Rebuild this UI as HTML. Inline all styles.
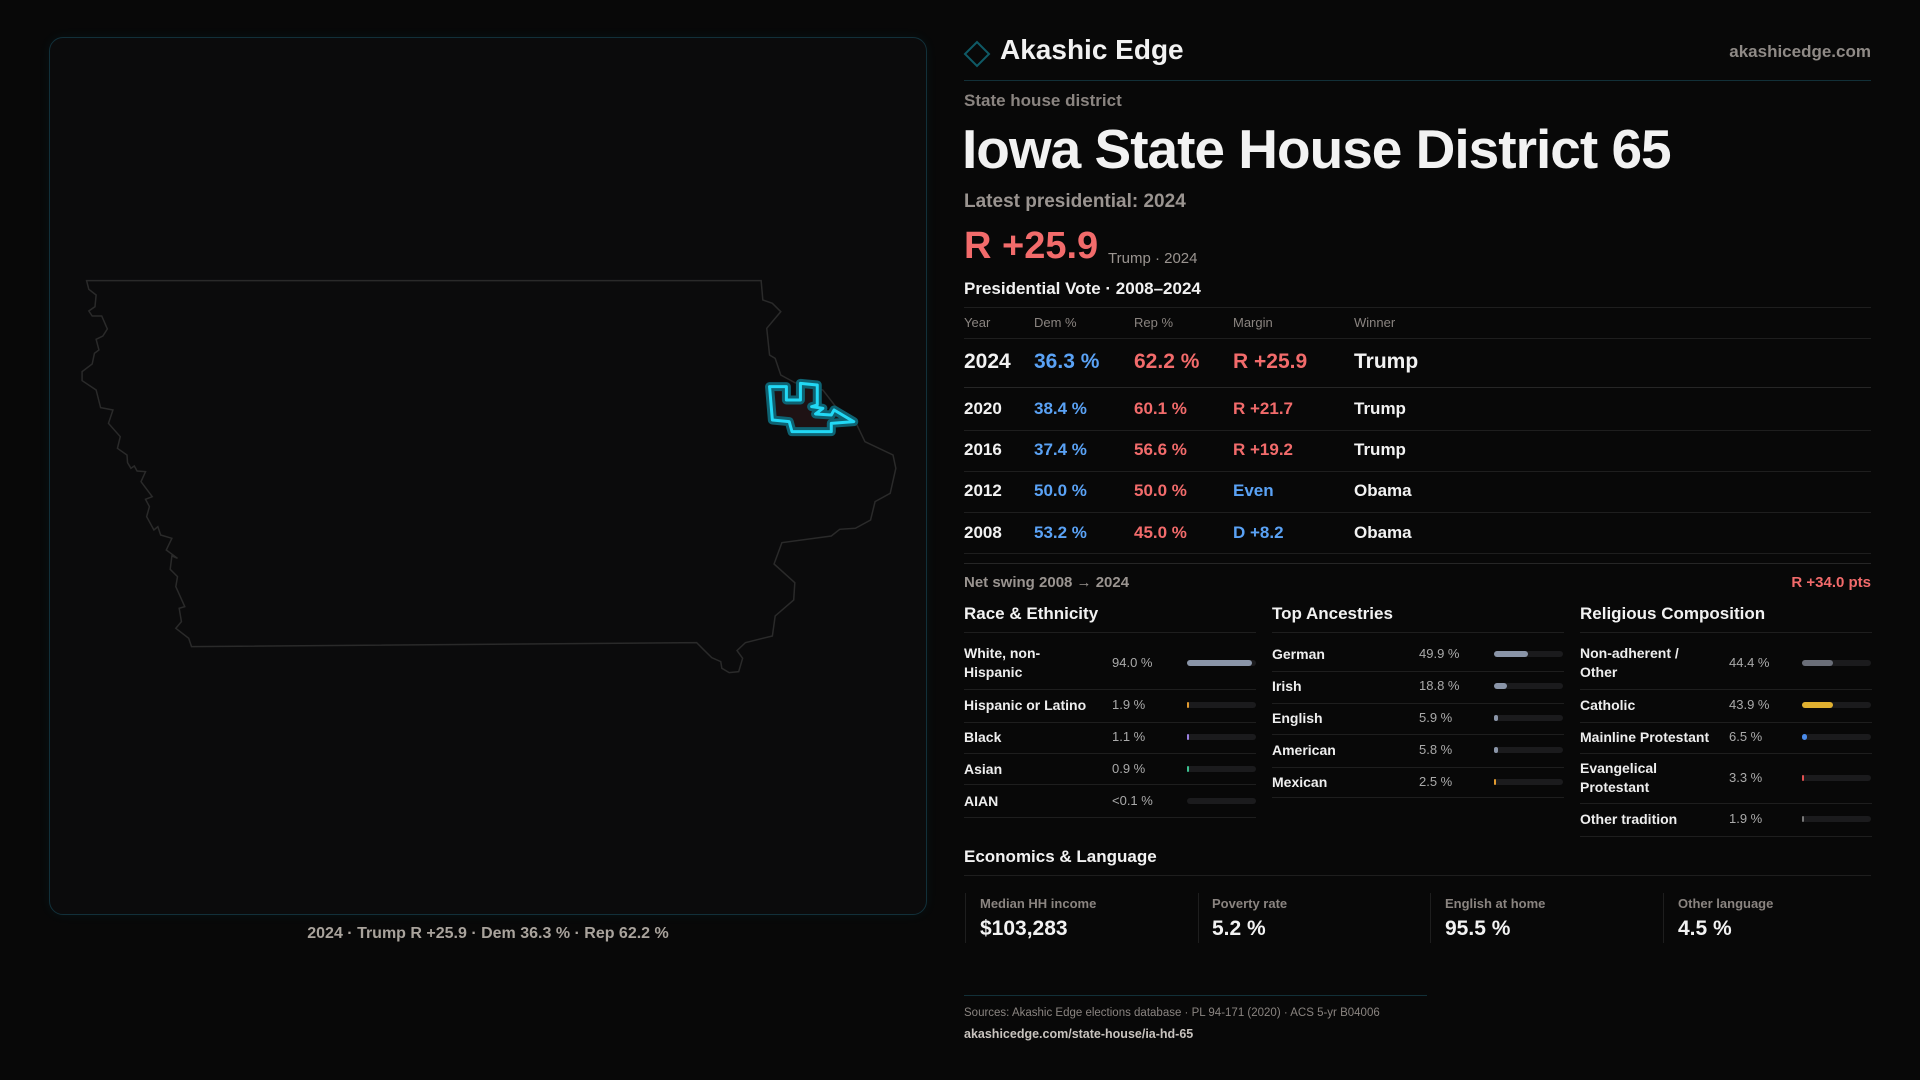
<!DOCTYPE html>
<html><head><meta charset="utf-8"><style>
*{margin:0;padding:0;box-sizing:border-box}
body{width:1920px;height:1080px;background:#080808;color:#f2f2f2;font-family:"Liberation Sans",sans-serif;position:relative;overflow:hidden}
.a{position:absolute;white-space:nowrap}
.g{color:#9a9490}
.r{color:#f26b6b}.b{color:#5aa2f5}
.hl{position:absolute;height:1px;background:#1e1e1e}
.bar{position:absolute;height:6px;border-radius:3px;background:#1b1b1d;width:69px}
.bar i{position:absolute;left:0;top:0;height:6px;border-radius:3px}
.lab{font-size:14px;font-weight:bold;color:#eee;line-height:19px}
.val{font-size:13px;color:#aaa}
</style></head><body>
<div class="a" style="left:49px;top:37px;width:878px;height:878px;border:1px solid #12303a;border-radius:14px;background:#0b0b0c;box-shadow:0 0 12px rgba(0,200,230,0.06)"></div>
<svg class="a" style="left:0;top:0" width="1920" height="1080">
<g transform="translate(40,260) scale(0.5612,0.3333)">
<polygon vector-effect="non-scaling-stroke" fill="none" stroke="#2a2a2a" stroke-width="1.5" points="83,62 1285,62 1288,120 1305,130 1320,155 1295,205 1300,285 1310,295 1320,345 1345,368 1395,390 1418,440 1450,475 1470,545 1520,585 1525,625 1515,700 1488,725 1480,780 1453,805 1425,808 1410,828 1322,848 1308,912 1345,968 1343,1020 1310,1068 1305,1128 1257,1148 1242,1172 1252,1195 1245,1235 1228,1238 1215,1225 1213,1205 1197,1193 1183,1170 1170,1148 270,1160 265,1135 242,1105 252,1085 248,1045 258,1040 242,980 245,950 232,928 235,888 245,895 225,870 235,835 215,825 210,800 203,810 190,770 195,740 188,718 200,710 180,665 188,635 173,633 168,618 162,625 156,608 155,585 138,565 143,530 122,490 130,450 108,443 100,390 75,362 75,335 93,312 97,280 105,270 100,238 112,228 120,207 110,168 93,168 87,153 98,140 100,105 87,88"/>
<polygon vector-effect="non-scaling-stroke" fill="#1e1214" stroke="#0e6272" stroke-width="9" stroke-linejoin="round" points="1300,380 1330,380 1330,420 1355,420 1355,370 1385,375 1385,435 1375,440 1395,445 1382,462 1410,465 1415,450 1450,485 1410,490 1410,515 1340,515 1335,485 1305,480"/>
<polygon vector-effect="non-scaling-stroke" fill="none" stroke="#22d8f5" stroke-width="3" stroke-linejoin="round" points="1300,380 1330,380 1330,420 1355,420 1355,370 1385,375 1385,435 1375,440 1395,445 1382,462 1410,465 1415,450 1450,485 1410,490 1410,515 1340,515 1335,485 1305,480"/>
</g>
<polygon points="965,54 977,42 989,54 977,66" fill="none" stroke="#0f5a66" stroke-width="2"/>
</svg>
<div class="a g" style="left:0;width:976px;text-align:center;top:925px;font-size:16px;font-weight:bold;color:#a9a39c">2024 · Trump R +25.9 · Dem 36.3 % · Rep 62.2 %</div>

<div class="a" style="left:1000px;top:34px;font-size:28px;font-weight:bold">Akashic Edge</div>
<div class="a g" style="right:49px;top:42px;font-size:17px;font-weight:bold;color:#8f8a86">akashicedge.com</div>
<div class="hl" style="left:964px;width:907px;top:80px;background:#123038"></div>
<div class="a g" style="left:964px;top:91px;font-size:17px;font-weight:bold;color:#8a8480">State house district</div>
<div class="a" style="left:962px;top:117px;font-size:55px;font-weight:bold;letter-spacing:-1px">Iowa State House District 65</div>
<div class="a g" style="left:964px;top:191px;font-size:19px;font-weight:bold">Latest presidential: 2024</div>
<div class="a r" style="left:964px;top:225px;font-size:38px;font-weight:bold">R +25.9</div>
<div class="a g" style="left:1108px;top:250px;font-size:15px">Trump · 2024</div>
<div class="a" style="left:964px;top:279px;font-size:17px;font-weight:bold">Presidential Vote · 2008–2024</div>
<div class="hl" style="left:964px;width:907px;top:307px"></div>
<div class="a g" style="left:964px;top:315px;font-size:13px;color:#8a8480">Year</div>
<div class="a g" style="left:1034px;top:315px;font-size:13px;color:#8a8480">Dem %</div>
<div class="a g" style="left:1134px;top:315px;font-size:13px;color:#8a8480">Rep %</div>
<div class="a g" style="left:1233px;top:315px;font-size:13px;color:#8a8480">Margin</div>
<div class="a g" style="left:1354px;top:315px;font-size:13px;color:#8a8480">Winner</div>
<div class="hl" style="left:964px;width:907px;top:338px"></div>
<div class="a" style="left:964px;top:350px;font-size:21px;font-weight:bold">2024</div>
<div class="a b" style="left:1034px;top:350px;font-size:21px;font-weight:bold">36.3 %</div>
<div class="a r" style="left:1134px;top:350px;font-size:21px;font-weight:bold">62.2 %</div>
<div class="a r" style="left:1233px;top:350px;font-size:21px;font-weight:bold">R +25.9</div>
<div class="a" style="left:1354px;top:350px;font-size:21px;font-weight:bold">Trump</div>
<div class="hl" style="left:964px;width:907px;top:387px;background:#262626"></div>
<div class="a" style="left:964px;top:399px;font-size:17px;font-weight:bold;line-height:20px">2020</div>
<div class="a" style="left:964px;top:440px;font-size:17px;font-weight:bold;line-height:20px">2016</div>
<div class="a" style="left:964px;top:481px;font-size:17px;font-weight:bold;line-height:20px">2012</div>
<div class="a" style="left:964px;top:523px;font-size:17px;font-weight:bold;line-height:20px">2008</div>
<div class="a b" style="left:1034px;top:399px;font-size:17px;font-weight:bold">38.4 %</div>
<div class="a r" style="left:1134px;top:399px;font-size:17px;font-weight:bold">60.1 %</div>
<div class="a r" style="left:1233px;top:399px;font-size:17px;font-weight:bold">R +21.7</div>
<div class="a" style="left:1354px;top:399px;font-size:17px;font-weight:bold">Trump</div>
<div class="hl" style="left:964px;width:907px;top:430px"></div>
<div class="a b" style="left:1034px;top:440px;font-size:17px;font-weight:bold">37.4 %</div>
<div class="a r" style="left:1134px;top:440px;font-size:17px;font-weight:bold">56.6 %</div>
<div class="a r" style="left:1233px;top:440px;font-size:17px;font-weight:bold">R +19.2</div>
<div class="a" style="left:1354px;top:440px;font-size:17px;font-weight:bold">Trump</div>
<div class="hl" style="left:964px;width:907px;top:471px"></div>
<div class="a b" style="left:1034px;top:481px;font-size:17px;font-weight:bold">50.0 %</div>
<div class="a r" style="left:1134px;top:481px;font-size:17px;font-weight:bold">50.0 %</div>
<div class="a b" style="left:1233px;top:481px;font-size:17px;font-weight:bold">Even</div>
<div class="a" style="left:1354px;top:481px;font-size:17px;font-weight:bold">Obama</div>
<div class="hl" style="left:964px;width:907px;top:512px"></div>
<div class="a b" style="left:1034px;top:523px;font-size:17px;font-weight:bold">53.2 %</div>
<div class="a r" style="left:1134px;top:523px;font-size:17px;font-weight:bold">45.0 %</div>
<div class="a b" style="left:1233px;top:523px;font-size:17px;font-weight:bold">D +8.2</div>
<div class="a" style="left:1354px;top:523px;font-size:17px;font-weight:bold">Obama</div>
<div class="hl" style="left:964px;width:907px;top:553px"></div>
<div class="hl" style="left:964px;width:907px;top:563px;background:#262626"></div>
<div class="a g" style="left:964px;top:574px;font-size:15px;font-weight:bold">Net swing 2008 → 2024</div>
<div class="a r" style="right:49px;top:574px;font-size:15px;font-weight:bold">R +34.0 pts</div>

<div class="a" style="left:964px;top:604px;font-size:17px;font-weight:bold">Race &amp; Ethnicity</div>
<div class="a" style="left:1272px;top:604px;font-size:17px;font-weight:bold">Top Ancestries</div>
<div class="a" style="left:1580px;top:604px;font-size:17px;font-weight:bold">Religious Composition</div>
<div class="hl" style="left:964px;width:292px;top:632px"></div>
<div class="hl" style="left:1272px;width:292px;top:632px"></div>
<div class="hl" style="left:1580px;width:292px;top:632px"></div>

<div class="a lab" style="left:964px;top:644px">White, non-<br>Hispanic</div><div class="a val" style="left:1112px;top:655px">94.0 %</div><div class="bar" style="left:1187px;top:660px"><i style="width:65px;background:#8a95a8"></i></div>
<div class="hl" style="left:964px;width:292px;top:689px"></div>
<div class="a lab" style="left:964px;top:696px">Hispanic or Latino</div><div class="a val" style="left:1112px;top:697px">1.9 %</div><div class="bar" style="left:1187px;top:702px"><i style="width:2px;background:#e09a30"></i></div>
<div class="hl" style="left:964px;width:292px;top:722px"></div>
<div class="a lab" style="left:964px;top:728px">Black</div><div class="a val" style="left:1112px;top:729px">1.1 %</div><div class="bar" style="left:1187px;top:734px"><i style="width:2px;background:#9a80e0"></i></div>
<div class="hl" style="left:964px;width:292px;top:753px"></div>
<div class="a lab" style="left:964px;top:760px">Asian</div><div class="a val" style="left:1112px;top:761px">0.9 %</div><div class="bar" style="left:1187px;top:766px"><i style="width:2px;background:#3cc090"></i></div>
<div class="hl" style="left:964px;width:292px;top:784px"></div>
<div class="a lab" style="left:964px;top:792px">AIAN</div><div class="a val" style="left:1112px;top:793px">&lt;0.1 %</div><div class="bar" style="left:1187px;top:798px"></div>
<div class="hl" style="left:964px;width:292px;top:817px"></div>

<div class="a lab" style="left:1272px;top:645px">German</div><div class="a val" style="left:1419px;top:646px">49.9 %</div><div class="bar" style="left:1494px;top:651px"><i style="width:34px;background:#8a95a8"></i></div>
<div class="hl" style="left:1272px;width:292px;top:671px"></div>
<div class="a lab" style="left:1272px;top:677px">Irish</div><div class="a val" style="left:1419px;top:678px">18.8 %</div><div class="bar" style="left:1494px;top:683px"><i style="width:13px;background:#8a95a8"></i></div>
<div class="hl" style="left:1272px;width:292px;top:703px"></div>
<div class="a lab" style="left:1272px;top:709px">English</div><div class="a val" style="left:1419px;top:710px">5.9 %</div><div class="bar" style="left:1494px;top:715px"><i style="width:4px;background:#8a95a8"></i></div>
<div class="hl" style="left:1272px;width:292px;top:734px"></div>
<div class="a lab" style="left:1272px;top:741px">American</div><div class="a val" style="left:1419px;top:742px">5.8 %</div><div class="bar" style="left:1494px;top:747px"><i style="width:4px;background:#8a95a8"></i></div>
<div class="hl" style="left:1272px;width:292px;top:767px"></div>
<div class="a lab" style="left:1272px;top:773px">Mexican</div><div class="a val" style="left:1419px;top:774px">2.5 %</div><div class="bar" style="left:1494px;top:779px"><i style="width:2px;background:#e09a30"></i></div>
<div class="hl" style="left:1272px;width:292px;top:797px"></div>

<div class="a lab" style="left:1580px;top:644px">Non-adherent /<br>Other</div><div class="a val" style="left:1729px;top:655px">44.4 %</div><div class="bar" style="left:1802px;top:660px"><i style="width:31px;background:#6a6e78"></i></div>
<div class="hl" style="left:1580px;width:292px;top:689px"></div>
<div class="a lab" style="left:1580px;top:696px">Catholic</div><div class="a val" style="left:1729px;top:697px">43.9 %</div><div class="bar" style="left:1802px;top:702px"><i style="width:31px;background:#e0b030"></i></div>
<div class="hl" style="left:1580px;width:292px;top:722px"></div>
<div class="a lab" style="left:1580px;top:728px">Mainline Protestant</div><div class="a val" style="left:1729px;top:729px">6.5 %</div><div class="bar" style="left:1802px;top:734px"><i style="width:5px;background:#4a8ae8"></i></div>
<div class="hl" style="left:1580px;width:292px;top:753px"></div>
<div class="a lab" style="left:1580px;top:759px">Evangelical<br>Protestant</div><div class="a val" style="left:1729px;top:770px">3.3 %</div><div class="bar" style="left:1802px;top:775px"><i style="width:2px;background:#e05050"></i></div>
<div class="hl" style="left:1580px;width:292px;top:803px"></div>
<div class="a lab" style="left:1580px;top:810px">Other tradition</div><div class="a val" style="left:1729px;top:811px">1.9 %</div><div class="bar" style="left:1802px;top:816px"><i style="width:2px;background:#777"></i></div>
<div class="hl" style="left:1580px;width:292px;top:836px"></div>

<div class="a" style="left:964px;top:847px;font-size:17px;font-weight:bold">Economics &amp; Language</div>
<div class="hl" style="left:964px;width:907px;top:875px"></div>
<div class="a" style="left:965px;top:893px;width:1px;height:50px;background:#1e1e1e"></div>
<div class="a" style="left:1198px;top:893px;width:1px;height:50px;background:#1e1e1e"></div>
<div class="a" style="left:1430px;top:893px;width:1px;height:50px;background:#1e1e1e"></div>
<div class="a" style="left:1663px;top:893px;width:1px;height:50px;background:#1e1e1e"></div>
<div class="a g" style="left:980px;top:896px;font-size:13px;font-weight:bold;color:#8a8480">Median HH income</div>
<div class="a" style="left:980px;top:917px;font-size:21px;font-weight:bold">$103,283</div>
<div class="a g" style="left:1212px;top:896px;font-size:13px;font-weight:bold;color:#8a8480">Poverty rate</div>
<div class="a" style="left:1212px;top:917px;font-size:21px;font-weight:bold">5.2 %</div>
<div class="a g" style="left:1445px;top:896px;font-size:13px;font-weight:bold;color:#8a8480">English at home</div>
<div class="a" style="left:1445px;top:917px;font-size:21px;font-weight:bold">95.5 %</div>
<div class="a g" style="left:1678px;top:896px;font-size:13px;font-weight:bold;color:#8a8480">Other language</div>
<div class="a" style="left:1678px;top:917px;font-size:21px;font-weight:bold">4.5 %</div>

<div class="hl" style="left:964px;width:463px;top:995px;background:#123038"></div>
<div class="a g" style="left:964px;top:1007px;font-size:11.5px;color:#8a8480">Sources: Akashic Edge elections database · PL 94-171 (2020) · ACS 5-yr B04006</div>
<div class="a" style="left:964px;top:1027px;font-size:12.5px;font-weight:bold;color:#c8c3be">akashicedge.com/state-house/ia-hd-65</div>
</body></html>
